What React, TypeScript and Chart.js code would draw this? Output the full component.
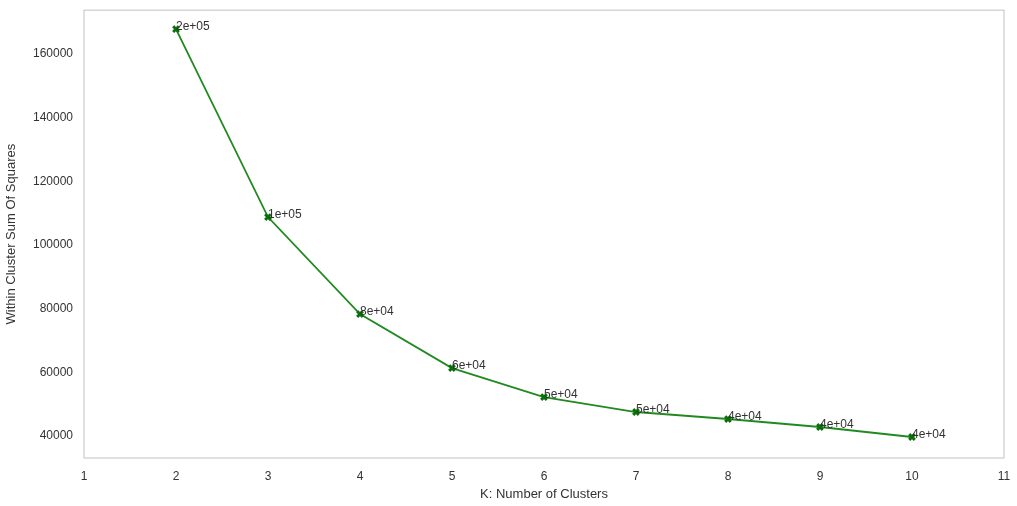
import React, { useEffect, useRef } from 'react';
import Chart from 'chart.js/auto';

const clusters = [2, 3, 4, 5, 6, 7, 8, 9, 10];
const wcss = [167850, 108790, 78320, 61350, 52250, 47540, 45340, 42830, 39690];
const pointLabels = ['2e+05', '1e+05', '8e+04', '6e+04', '5e+04', '5e+04', '4e+04', '4e+04', '4e+04'];
const yTicks = [40000, 60000, 80000, 100000, 120000, 140000, 160000];

const FONT = '"Liberation Sans", Arial, sans-serif';

const App = () => {
  const chartRef = useRef<HTMLCanvasElement>(null);

  useEffect(() => {
    document.body.style.margin = '0';
    if (!chartRef.current) return;
    const boxAndLabels = {
      id: 'boxAndLabels',
      afterDatasetsDraw(chart: any) {
        const { ctx, chartArea: a } = chart;
        ctx.save();
        ctx.strokeStyle = '#cccccc';
        ctx.lineWidth = 1.2;
        ctx.strokeRect(a.left, a.top, a.right - a.left, a.bottom - a.top);
        ctx.fillStyle = '#333333';
        ctx.font = '12px ' + FONT;
        ctx.textBaseline = 'alphabetic';
        const meta = chart.getDatasetMeta(0);
        meta.data.forEach((p: any, i: number) => {
          ctx.fillText(pointLabels[i], p.x, p.y + 1);
        });
        ctx.restore();
      },
    };
    const myChart = new Chart(chartRef.current, {
      type: 'line',
      data: {
        datasets: [
          {
            data: clusters.map((k, i) => ({ x: k, y: wcss[i] })),
            borderColor: '#1f8a1f',
            backgroundColor: '#0a700a',
            borderWidth: 1.8,
            pointStyle: 'crossRot',
            pointRadius: 4,
            pointBorderWidth: 3,
            pointBorderColor: '#0a700a',
            tension: 0,
          },
        ],
      },
      options: {
        animation: false,
        responsive: false,
        layout: { padding: { top: 10, right: 13 } },
        plugins: { legend: { display: false }, tooltip: { enabled: false } },
        scales: {
          x: {
            type: 'linear',
            min: 1,
            max: 11,
            grid: { display: false },
            border: { display: false },
            ticks: { stepSize: 1, color: '#333', font: { family: FONT, size: 12 } },
            title: { display: true, text: 'K: Number of Clusters', color: '#333', font: { family: FONT, size: 13 }, padding: { top: 2 } },
            afterFit: (s: any) => { s.height = 48; },
          },
          y: {
            min: 33090,
            max: 173800,
            grid: { display: false },
            border: { display: false },
            afterBuildTicks: (s: any) => { s.ticks = yTicks.map((v) => ({ value: v })); },
            ticks: { color: '#333', font: { family: FONT, size: 12 }, callback: (v: any) => String(v) },
            title: { display: true, text: 'Within Cluster Sum Of Squares', color: '#333', font: { family: FONT, size: 13 } },
            afterFit: (s: any) => { s.width = 84; },
          },
        },
      },
      plugins: [boxAndLabels],
    });
    return () => myChart.destroy();
  }, []);

  return <canvas ref={chartRef} width={1017} height={506} style={{ display: 'block' }} />;
};

export default App;
